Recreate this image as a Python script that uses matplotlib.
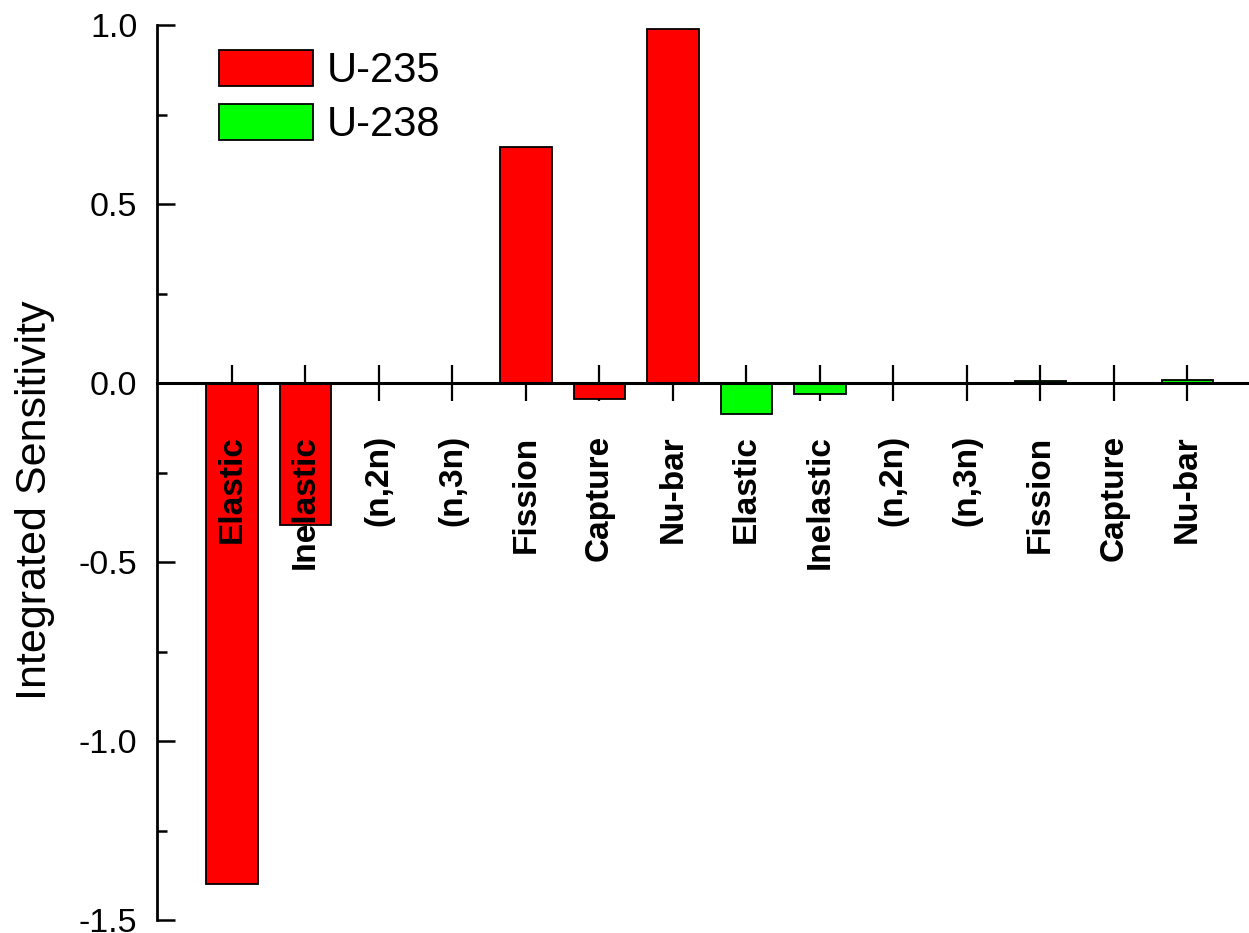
import numpy as np
import matplotlib
matplotlib.use('Agg')
import matplotlib.pyplot as plt
from matplotlib.ticker import MultipleLocator

plt.rcParams['font.family'] = ['Liberation Sans', 'DejaVu Sans']

# reações e sensibilidades integradas
reacoes = ['Elastic', 'Inelastic', '(n,2n)', '(n,3n)', 'Fission', 'Capture', 'Nu-bar']
sens_u235 = [-1.40, -0.397, -0.003, 0.0, 0.66, -0.044, 0.99]
sens_u238 = [-0.086, -0.030, -0.001, 0.0, 0.005, -0.001, 0.008]

COR_U235 = '#ff0000'
COR_U238 = '#00ff00'

n = len(reacoes)
x235 = np.arange(1, n + 1)
x238 = np.arange(n + 1, 2 * n + 1)

fig = plt.figure(figsize=(12.49, 9.33), dpi=100)
ax = fig.add_axes([0.1257, 0.0139, 0.8743, 0.9593])

ax.bar(x235, sens_u235, width=0.7, color=COR_U235, edgecolor='black',
       linewidth=1.3, label='U-235', zorder=2)
ax.bar(x238, sens_u238, width=0.7, color=COR_U238, edgecolor='black',
       linewidth=1.3, label='U-238', zorder=2)

# rótulos das reações, verticais, logo abaixo do eixo zero
for xi, nome in zip(np.concatenate([x235, x238]), reacoes + reacoes):
    ax.text(xi, -0.146, nome, rotation=90, ha='center', va='top',
            fontsize=24, fontweight='bold', zorder=3)

ax.set_xlim(-0.02, 14.84)
ax.set_ylim(-1.5, 1.0)

ax.spines['top'].set_visible(False)
ax.spines['right'].set_visible(False)
ax.spines['bottom'].set_position(('data', 0))
ax.spines['bottom'].set_linewidth(2.2)
ax.spines['bottom'].set_zorder(4)
ax.spines['left'].set_linewidth(2.0)

ax.set_xticks(np.concatenate([x235, x238]))
ax.set_xticklabels([])
ax.tick_params(axis='x', direction='inout', length=26.5, width=1.6, zorder=5)

ax.yaxis.set_major_locator(MultipleLocator(0.5))
ax.yaxis.set_minor_locator(MultipleLocator(0.25))
ax.yaxis.set_major_formatter(plt.FuncFormatter(lambda v, p: f'{v:.1f}'))
ax.tick_params(axis='y', which='major', direction='in', length=13, width=1.8,
               labelsize=24.5, pad=14)
ax.tick_params(axis='y', which='minor', direction='in', length=7, width=1.8)

ax.set_ylabel('Integrated Sensitivity', fontsize=31)
ax.yaxis.set_label_coords(-0.093, 0.469)

ax.legend(loc='upper left', bbox_to_anchor=(0.057, 0.972), frameon=False,
          fontsize=30, handlelength=2.25, handleheight=0.94,
          handletextpad=0.33, labelspacing=0.31, borderpad=0, borderaxespad=0)

fig.savefig('out.png', dpi=100)
